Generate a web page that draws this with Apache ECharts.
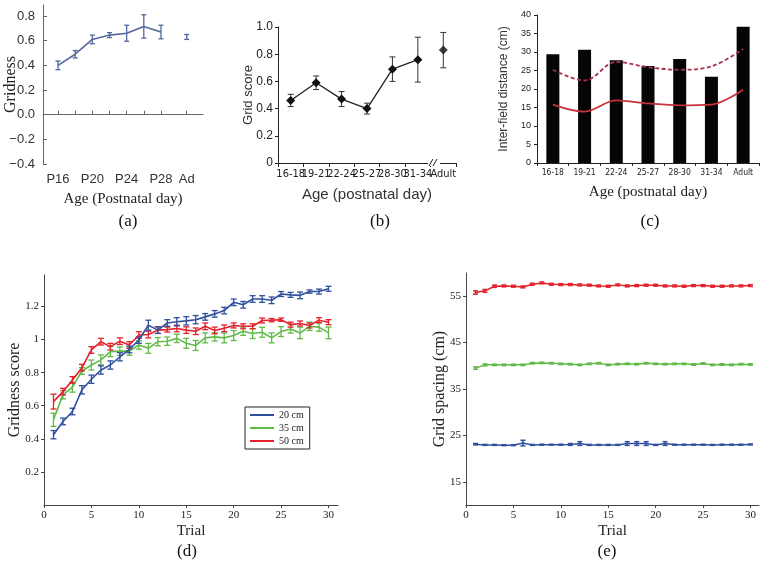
<!DOCTYPE html>
<html><head><meta charset="utf-8">
<script src="https://cdn.jsdelivr.net/npm/echarts@6/dist/echarts.min.js"></script>
<style>html,body{margin:0;padding:0;background:#fff}#c{width:768px;height:562px}</style>
</head><body><div id="c"></div>
<script>
// ---- Panel (a) ----
const aAges = [16, 18, 20, 22, 24, 26, 28];
const aGridness = [0.40, 0.49, 0.61, 0.645, 0.66, 0.715, 0.67];
const aErr = [0.035, 0.03, 0.035, 0.02, 0.065, 0.095, 0.055];
const aAdultAge = [31];
const aAdult = [0.63];
const aAdultErr = [0.02];
const aXTicks = [16, 18, 20, 22, 24, 26, 28, 31];
const aXLabels = [16, 20, 24, 28, 31];
const aYLabels = [-0.4, -0.2, 0, 0.2, 0.4, 0.6, 0.8];

// ---- Panel (b) ----
const bCats = ['16-18', '19-21', '22-24', '25-27', '28-30', '31-34', 'Adult'];
const bScore = [0.46, 0.59, 0.47, 0.40, 0.69, 0.76, 0.83];
const bErr = [0.045, 0.05, 0.055, 0.04, 0.09, 0.165, 0.13];

// ---- Panel (c) ----
const cCats = ['16-18', '19-21', '22-24', '25-27', '28-30', '31-34', 'Adult'];
const cBars = [29.4, 30.6, 27.8, 26.2, 28.1, 23.3, 36.8];
const cSolid = [15.8, 13.9, 16.9, 16.1, 15.6, 15.8, 19.8];
const cDashed = [25.2, 22.3, 27.3, 25.9, 25.2, 26.1, 30.8];

// ---- Panel (d) ----
const trials = [1,2,3,4,5,6,7,8,9,10,11,12,13,14,15,16,17,18,19,20,21,22,23,24,25,26,27,28,29,30];
const dBlue = [0.425,0.505,0.565,0.696,0.76,0.816,0.846,0.896,0.94,0.997,1.087,1.057,1.10,1.107,1.113,1.12,1.137,1.155,1.175,1.225,1.21,1.245,1.245,1.237,1.275,1.27,1.267,1.29,1.29,1.307];
const dGreen = [0.515,0.666,0.712,0.81,0.846,0.877,0.927,0.93,0.93,0.967,0.947,0.987,0.99,1.007,0.977,0.964,1.01,1.016,1.01,1.024,1.05,1.036,1.044,1.01,1.048,1.064,1.04,1.08,1.075,1.04];
const dRed = [0.625,0.685,0.756,0.83,0.937,0.987,0.957,0.99,0.967,1.027,1.03,1.057,1.06,1.067,1.057,1.05,1.08,1.055,1.068,1.085,1.08,1.08,1.115,1.117,1.12,1.09,1.097,1.085,1.117,1.105];
const dBlueErr = [0.025,0.02,0.02,0.025,0.025,0.025,0.025,0.025,0.02,0.02,0.03,0.02,0.02,0.025,0.025,0.025,0.02,0.02,0.02,0.02,0.02,0.02,0.02,0.02,0.015,0.015,0.02,0.01,0.015,0.015];
const dGreenErr = [0.04,0.025,0.03,0.02,0.03,0.03,0.03,0.025,0.025,0.025,0.03,0.025,0.025,0.025,0.03,0.03,0.03,0.025,0.03,0.03,0.025,0.03,0.03,0.03,0.03,0.025,0.035,0.025,0.025,0.035];
const dRedErr = [0.045,0.02,0.02,0.02,0.02,0.02,0.02,0.02,0.02,0.02,0.02,0.02,0.015,0.02,0.02,0.02,0.02,0.02,0.02,0.015,0.015,0.015,0.015,0.01,0.01,0.015,0.015,0.015,0.015,0.015];
const dXLabels = [0, 5, 10, 15, 20, 25, 30];
const dYLabels = [0.2, 0.4, 0.6, 0.8, 1, 1.2];
const dNames = ['20 cm', '35 cm', '50 cm'];

// ---- Panel (e) ----
const eRed = [55.8,56.15,57.15,57.22,57.15,57.0,57.58,57.87,57.58,57.51,57.51,57.44,57.37,57.22,57.15,57.44,57.22,57.29,57.37,57.37,57.22,57.22,57.15,57.29,57.29,57.15,57.15,57.22,57.22,57.29];
const eGreen = [39.5,40.2,40.2,40.2,40.2,40.2,40.56,40.63,40.56,40.42,40.35,40.2,40.42,40.56,40.2,40.35,40.42,40.35,40.56,40.42,40.35,40.42,40.42,40.28,40.49,40.2,40.28,40.2,40.35,40.28];
const eBlue = [23.1,22.95,22.95,22.9,22.9,23.35,22.95,23.0,23.0,23.0,23.05,23.25,22.95,22.95,22.95,22.95,23.25,23.25,23.25,22.95,23.25,23.0,23.0,23.0,23.0,22.95,23.0,23.0,23.0,23.05];
const eRedErr = [0.35,0.3,0.25,0.2,0.2,0.2,0.2,0.2,0.2,0.2,0.2,0.2,0.2,0.2,0.2,0.2,0.2,0.2,0.2,0.2,0.2,0.2,0.2,0.2,0.2,0.2,0.2,0.2,0.2,0.2];
const eGreenErr = [0.25,0.2,0.15,0.15,0.15,0.15,0.15,0.15,0.15,0.15,0.15,0.15,0.15,0.15,0.15,0.15,0.15,0.15,0.15,0.15,0.15,0.15,0.15,0.15,0.15,0.15,0.15,0.15,0.15,0.15];
const eBlueErr = [0.15,0.1,0.1,0.1,0.1,0.6,0.1,0.1,0.1,0.1,0.2,0.4,0.1,0.1,0.1,0.1,0.4,0.4,0.4,0.1,0.4,0.1,0.1,0.1,0.1,0.1,0.1,0.1,0.1,0.1];
const eYLabels = [15, 25, 35, 45, 55];

const SERIF = "'Liberation Serif', 'Times New Roman', serif";
const SANS = "'Liberation Sans', Arial, sans-serif";
const NARROW = "'Liberation Sans Narrow', 'DejaVu Sans Condensed', 'Liberation Sans', sans-serif";

const BLUE = '#2f4f9f', GREEN = '#5fba47', RED = '#e3212c';

function errBars(idx, xs, ys, errs, color, cap, width) {
  return {
    type: 'custom', xAxisIndex: idx, yAxisIndex: idx, silent: true, z: 3,
    data: xs.map((x, i) => [x, ys[i] - errs[i], ys[i] + errs[i]]),
    encode: { x: 0, y: [1, 2] },
    renderItem: function (params, api) {
      const x = api.value(0);
      const lo = api.coord([x, api.value(1)]);
      const hi = api.coord([x, api.value(2)]);
      const st = { stroke: color, lineWidth: width };
      return { type: 'group', children: [
        { type: 'line', shape: { x1: lo[0], y1: lo[1], x2: hi[0], y2: hi[1] }, style: st },
        { type: 'line', shape: { x1: lo[0] - cap, y1: lo[1], x2: lo[0] + cap, y2: lo[1] }, style: st },
        { type: 'line', shape: { x1: hi[0] - cap, y1: hi[1], x2: hi[0] + cap, y2: hi[1] }, style: st }
      ]};
    }
  };
}
function pairs(xs, ys) { return xs.map((x, i) => [x, ys[i]]); }

const grids = [
  { left: 43, top: 5, width: 160, height: 159 },
  { left: 278, top: 27, width: 178, height: 136 },
  { left: 537, top: 15, width: 222, height: 148 },
  { left: 44, top: 275, width: 294, height: 230 },
  { left: 466, top: 273, width: 293, height: 232 }
].map(g => Object.assign({ containLabel: false, outerBoundsMode: 'none' }, g));

const xAxes = [
  { gridIndex: 0, type: 'value', min: 14.25, max: 32.9,
    axisLine: { lineStyle: { color: '#666', width: 1 } },
    axisTick: { show: true, inside: true, length: 4, customValues: aXTicks, lineStyle: { color: '#666' } },
    axisLabel: { customValues: aXLabels, margin: 9, color: '#333', fontSize: 13, fontFamily: SANS,
      formatter: v => v === 31 ? 'Ad' : 'P' + v },
    splitLine: { show: false },
    name: 'Age (Postnatal day)', nameLocation: 'middle', nameGap: 28, nameMoveOverlap: false,
    nameTextStyle: { fontFamily: SERIF, fontSize: 15, color: '#222' } },
  { gridIndex: 1, type: 'category', data: bCats, boundaryGap: true,
    axisLine: { lineStyle: { color: '#222', width: 1 } },
    axisTick: { show: true, length: 4, lineStyle: { color: '#222' } },
    axisLabel: { interval: 0, margin: 6, color: '#222', fontSize: 11, fontFamily: NARROW },
    name: 'Age (postnatal day)', nameLocation: 'middle', nameGap: 24, nameMoveOverlap: false,
    nameTextStyle: { fontFamily: SANS, fontSize: 15, color: '#333' } },
  { gridIndex: 2, type: 'category', data: cCats, boundaryGap: true,
    axisLine: { lineStyle: { color: '#222', width: 1 } },
    axisTick: { show: true, length: 3, lineStyle: { color: '#222' } },
    axisLabel: { interval: 0, margin: 5, color: '#222', fontSize: 8.5, fontFamily: NARROW },
    name: 'Age (postnatal day)', nameLocation: 'middle', nameGap: 22, nameMoveOverlap: false,
    nameTextStyle: { fontFamily: SERIF, fontSize: 15, color: '#222' } },
  { gridIndex: 3, type: 'value', min: 0, max: 31,
    axisLine: { lineStyle: { color: '#444', width: 1 } },
    axisTick: { show: true, length: 3, customValues: dXLabels, lineStyle: { color: '#444' } },
    axisLabel: { customValues: dXLabels, margin: 5, color: '#222', fontSize: 11, fontFamily: SERIF },
    splitLine: { show: false },
    name: 'Trial', nameLocation: 'middle', nameGap: 19, nameMoveOverlap: false,
    nameTextStyle: { fontFamily: SERIF, fontSize: 15, color: '#222' } },
  { gridIndex: 4, type: 'value', min: 0, max: 30.9,
    axisLine: { lineStyle: { color: '#444', width: 1 } },
    axisTick: { show: true, length: 3, customValues: dXLabels, lineStyle: { color: '#444' } },
    axisLabel: { customValues: dXLabels, margin: 5, color: '#222', fontSize: 11, fontFamily: SERIF },
    splitLine: { show: false },
    name: 'Trial', nameLocation: 'middle', nameGap: 19, nameMoveOverlap: false,
    nameTextStyle: { fontFamily: SERIF, fontSize: 15, color: '#222' } }
];

const yAxes = [
  { gridIndex: 0, type: 'value', min: -0.4, max: 0.889,
    axisLine: { show: true, lineStyle: { color: '#666', width: 1 } },
    axisTick: { show: true, inside: true, length: 4, customValues: aYLabels, lineStyle: { color: '#666' } },
    axisLabel: { customValues: aYLabels, margin: 8, color: '#333', fontSize: 13, fontFamily: SANS,
      formatter: v => (v < 0 ? '\u2212' : '') + Math.abs(v).toFixed(1) },
    splitLine: { show: false },
    name: 'Gridness', nameLocation: 'middle', nameGap: 24, nameMoveOverlap: false,
    nameTextStyle: { fontFamily: SERIF, fontSize: 16, color: '#222' } },
  { gridIndex: 1, type: 'value', min: 0, max: 1, interval: 0.2,
    axisLine: { show: true, lineStyle: { color: '#222', width: 1 } },
    axisTick: { show: true, length: 3, lineStyle: { color: '#222' } },
    axisLabel: { margin: 5, color: '#222', fontSize: 12, fontFamily: SANS,
      formatter: v => v === 0 ? '0' : v.toFixed(1) },
    splitLine: { show: false },
    name: 'Grid score', nameLocation: 'middle', nameGap: 23, nameMoveOverlap: false,
    nameTextStyle: { fontFamily: SANS, fontSize: 13, color: '#333' } },
  { gridIndex: 2, type: 'value', min: 0, max: 40, interval: 5,
    axisLine: { show: true, lineStyle: { color: '#222', width: 1 } },
    axisTick: { show: true, length: 3, lineStyle: { color: '#222' } },
    axisLabel: { margin: 6, color: '#222', fontSize: 9, fontFamily: SANS },
    splitLine: { show: false },
    name: 'Inter-field distance (cm)', nameLocation: 'middle', nameGap: 27, nameMoveOverlap: false,
    nameTextStyle: { fontFamily: SANS, fontSize: 12, color: '#333' } },
  { gridIndex: 3, type: 'value', min: 0, max: 1.39,
    axisLine: { show: true, lineStyle: { color: '#444', width: 1 } },
    axisTick: { show: true, length: 3, customValues: dYLabels, lineStyle: { color: '#444' } },
    axisLabel: { customValues: dYLabels, margin: 5, color: '#222', fontSize: 11, fontFamily: SERIF,
      formatter: v => v === 1 ? '1' : v.toFixed(1) },
    splitLine: { show: false },
    name: 'Gridness score', nameLocation: 'middle', nameGap: 21, nameMoveOverlap: false,
    nameTextStyle: { fontFamily: SERIF, fontSize: 16, color: '#222' } },
  { gridIndex: 4, type: 'value', min: 10, max: 60,
    axisLine: { show: true, lineStyle: { color: '#444', width: 1 } },
    axisTick: { show: true, length: 3, customValues: eYLabels, lineStyle: { color: '#444' } },
    axisLabel: { customValues: eYLabels, margin: 5, color: '#222', fontSize: 11, fontFamily: SERIF },
    splitLine: { show: false },
    name: 'Grid spacing (cm)', nameLocation: 'middle', nameGap: 18, nameMoveOverlap: false,
    nameTextStyle: { fontFamily: SERIF, fontSize: 16, color: '#222' } }
];

const A_COL = '#56679c';
const series = [
  // (a)
  { type: 'line', xAxisIndex: 0, yAxisIndex: 0, data: pairs(aAges, aGridness), symbol: 'none',
    lineStyle: { color: A_COL, width: 1.6 }, silent: true },
  errBars(0, aAges, aGridness, aErr, A_COL, 2.5, 1.3),
  errBars(0, aAdultAge, aAdult, aAdultErr, A_COL, 2.5, 1.3),
  // (b)
  { type: 'line', xAxisIndex: 1, yAxisIndex: 1,
    data: bScore.map((v, i) => i < 6 ? v : '-'), symbol: 'diamond', symbolSize: 9,
    itemStyle: { color: '#111' }, lineStyle: { color: '#222', width: 1.3 }, silent: true, z: 4 },
  { type: 'scatter', xAxisIndex: 1, yAxisIndex: 1,
    data: bScore.map((v, i) => i === 6 ? v : '-'), symbol: 'diamond', symbolSize: 9,
    itemStyle: { color: '#111' }, silent: true, z: 4 },
  errBars(1, bCats.map((c, i) => i), bScore, bErr, '#333', 3, 1),
  // (c)
  { type: 'bar', xAxisIndex: 2, yAxisIndex: 2, data: cBars, barWidth: 13,
    itemStyle: { color: '#050505' }, silent: true },
  { type: 'line', xAxisIndex: 2, yAxisIndex: 2, data: cSolid, symbol: 'none', smooth: 0.35,
    lineStyle: { color: '#c8323b', width: 1.8 }, silent: true, z: 4 },
  { type: 'line', xAxisIndex: 2, yAxisIndex: 2, data: cDashed, symbol: 'none', smooth: 0.35,
    lineStyle: { color: '#a53248', width: 1.8, type: [4, 2.5] }, silent: true, z: 4 },
  // (d)
  { name: dNames[0], type: 'line', xAxisIndex: 3, yAxisIndex: 3, data: pairs(trials, dBlue), symbol: 'none',
    lineStyle: { color: BLUE, width: 1.6 }, itemStyle: { color: BLUE }, silent: true, z: 4 },
  { name: dNames[1], type: 'line', xAxisIndex: 3, yAxisIndex: 3, data: pairs(trials, dGreen), symbol: 'none',
    lineStyle: { color: GREEN, width: 1.6 }, itemStyle: { color: GREEN }, silent: true, z: 2 },
  { name: dNames[2], type: 'line', xAxisIndex: 3, yAxisIndex: 3, data: pairs(trials, dRed), symbol: 'none',
    lineStyle: { color: RED, width: 1.6 }, itemStyle: { color: RED }, silent: true, z: 3 },
  errBars(3, trials, dGreen, dGreenErr, GREEN, 3, 1.3),
  errBars(3, trials, dRed, dRedErr, RED, 3, 1.3),
  errBars(3, trials, dBlue, dBlueErr, BLUE, 3, 1.3),
  // (e)
  { name: 'e-red', type: 'line', xAxisIndex: 4, yAxisIndex: 4, data: pairs(trials, eRed), symbol: 'none',
    lineStyle: { color: RED, width: 1.5 }, silent: true },
  { name: 'e-green', type: 'line', xAxisIndex: 4, yAxisIndex: 4, data: pairs(trials, eGreen), symbol: 'none',
    lineStyle: { color: GREEN, width: 1.5 }, silent: true },
  { name: 'e-blue', type: 'line', xAxisIndex: 4, yAxisIndex: 4, data: pairs(trials, eBlue), symbol: 'none',
    lineStyle: { color: BLUE, width: 1.5 }, silent: true },
  errBars(4, trials, eRed, eRedErr, RED, 2.5, 1.5),
  errBars(4, trials, eGreen, eGreenErr, GREEN, 2.5, 1.5),
  errBars(4, trials, eBlue, eBlueErr, BLUE, 2.5, 1.5)
];

const captions = [['(a)', 128, 222], ['(b)', 380, 222], ['(c)', 650, 222], ['(d)', 187, 552], ['(e)', 607, 552]];

const option = {
  animation: false,
  backgroundColor: '#fff',
  grid: grids, xAxis: xAxes, yAxis: yAxes, series: series,
  legend: {
    data: dNames.map(n => ({ name: n, icon: 'rect' })), orient: 'vertical', left: 245, top: 407,
    itemWidth: 24, itemHeight: 2, itemGap: 1, padding: [2, 6, 2, 5],
    borderColor: '#222', borderWidth: 1, backgroundColor: '#fff', selectedMode: false,
    textStyle: { fontFamily: SERIF, fontSize: 10, color: '#222', lineHeight: 12 }
  },
  graphic: [
    // axis break marks in panel (b)
    { type: 'rect', shape: { x: 428, y: 160, width: 12, height: 6 }, style: { fill: '#fff' }, z: 100 },
    { type: 'line', shape: { x1: 429, y1: 166, x2: 433, y2: 159 }, style: { stroke: '#222', lineWidth: 1 }, z: 101 },
    { type: 'line', shape: { x1: 433, y1: 166, x2: 437, y2: 159 }, style: { stroke: '#222', lineWidth: 1 }, z: 101 }
  ].concat(captions.map(c => ({
    type: 'text', x: c[1], y: c[2],
    style: { text: c[0], fill: '#111', font: '17px ' + SERIF, textAlign: 'center', textVerticalAlign: 'middle' }
  })))
};

const chart = echarts.init(document.getElementById('c'), null, { renderer: 'canvas' });
chart.setOption(option);
</script>
</body></html>
